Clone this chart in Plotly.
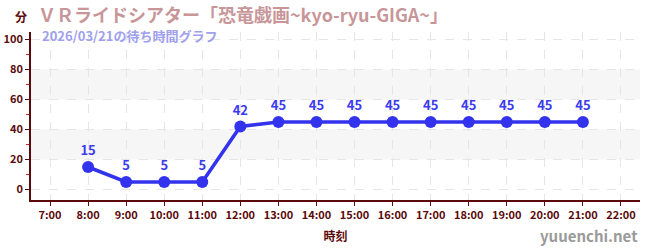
import plotly.graph_objects as go

hours = [8, 9, 10, 11, 12, 13, 14, 15, 16, 17, 18, 19, 20, 21]
waits = [15, 5, 5, 5, 42, 45, 45, 45, 45, 45, 45, 45, 45, 45]
tick_hours = list(range(7, 23))
tick_labels = [f"{h}:00" for h in tick_hours]
y_ticks = [0, 20, 40, 60, 80, 100]
y_minor = [10, 30, 50, 70, 90]
bands = [(20, 40), (60, 80)]

title = "ＶＲライドシアター「恐竜戯画~kyo-ryu-GIGA~」"
subtitle = "2026/03/21の待ち時間グラフ"

axis_col = "#5a0a0a"
font = "Noto Sans CJK JP"

fig = go.Figure()
for y0, y1 in bands:
    fig.add_shape(type="rect", xref="paper", yref="y", x0=0, x1=1, y0=y0, y1=y1,
                  fillcolor="#f6f6f6", line_width=0, layer="below")

fig.add_trace(go.Scatter(
    x=hours, y=waits, mode="lines+markers+text",
    text=[f"<b>{v}</b>" for v in waits], textposition="top center",
    textfont=dict(color="#3a3af0", size=13, family=font),
    line=dict(color="#3333ee", width=3.5),
    marker=dict(color="#3333ee", size=12),
    cliponaxis=False, hoverinfo="skip",
))

fig.update_layout(
    width=650, height=250,
    margin=dict(l=31, r=10, t=32, b=50, autoexpand=False),
    plot_bgcolor="white", paper_bgcolor="white",
    showlegend=False,
    font=dict(family=font, color=axis_col),
    xaxis=dict(
        automargin=False,
        range=[6.5, 22.5], tickvals=tick_hours, ticktext=tick_labels,
        showline=True, linecolor=axis_col, linewidth=1.5,
        ticks="outside", ticklen=4, tickcolor=axis_col,
        tickfont=dict(size=11, color=axis_col, weight="bold"),
        showgrid=True, gridcolor="#e6e6e6", griddash="dash", gridwidth=1,
        zeroline=False,
        title=dict(text="<b>時刻</b>", font=dict(size=12, color=axis_col), standoff=12),
    ),
    yaxis=dict(
        automargin=False,
        range=[-7, 105], tickvals=y_ticks,
        showline=True, linecolor=axis_col, linewidth=1.5,
        ticks="outside", ticklen=4, tickcolor=axis_col,
        tickfont=dict(size=11, color=axis_col, weight="bold"),
        showgrid=True, gridcolor="#e6e6e6", griddash="dash", gridwidth=1,
        zeroline=False,
        minor=dict(tickvals=y_minor, ticks="outside", ticklen=3,
                   tickcolor="#dd2222", showgrid=False),
    ),
)

fig.add_annotation(text="<b>分</b>", xref="paper", yref="paper", x=-0.0164, y=1.0,
                   xanchor="center", yanchor="middle", yshift=16, showarrow=False,
                   font=dict(size=12, color=axis_col, family=font))
fig.add_annotation(text="<b>" + title + "</b>", xref="paper", yref="paper", x=0.009, y=1.0,
                   xanchor="left", yanchor="middle", yshift=18, showarrow=False,
                   font=dict(size=18, color="#c89698", family=font))
fig.add_annotation(text="<b>" + subtitle + "</b>", xref="paper", yref="paper", x=0.015, y=1.0,
                   xanchor="left", yanchor="middle", yshift=-3, showarrow=False,
                   font=dict(size=13, color="#a0a0ee", family=font))
fig.add_annotation(text="<b>yuuenchi.net</b>", xref="paper", yref="paper", x=1.0, y=0,
                   xanchor="right", yanchor="middle", yshift=-35, showarrow=False,
                   font=dict(size=15, color="#9a9a9a", family=font))

fig.write_html("out.html")
